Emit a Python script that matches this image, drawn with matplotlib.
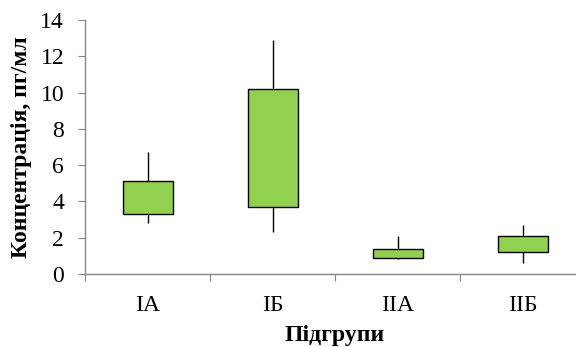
import numpy as np
import matplotlib.pyplot as plt

groups = ['IA', 'IБ', 'IIA', 'IIБ']
whisker_low = [2.8, 2.3, 0.8, 0.6]
box_low = [3.3, 3.7, 0.9, 1.2]
box_high = [5.1, 10.2, 1.4, 2.1]
whisker_high = [6.7, 12.9, 2.1, 2.7]

plt.rcParams['font.family'] = ['Liberation Serif', 'DejaVu Serif']

fig = plt.figure(figsize=(5.76, 3.47), dpi=100)
ax = fig.add_axes([85 / 576, 73 / 347, 500 / 576, 254 / 347])

x = np.arange(len(groups))
low = np.array(box_low)
high = np.array(box_high)

# whiskers first so boxes sit on top
ax.vlines(x, whisker_low, low, color='black', lw=1, zorder=2)
ax.vlines(x, high, whisker_high, color='black', lw=1, zorder=2)
ax.bar(x, high - low, bottom=low, width=0.4, color='#92D050',
       edgecolor='black', linewidth=1, zorder=3)

ax.set_xlim(-0.5, len(groups) - 0.5)
ax.set_ylim(0, 14)
ax.set_yticks(np.arange(0, 15, 2))

ax.set_xticks(np.arange(-0.5, len(groups), 1))
ax.set_xticklabels([])
ax.set_xticks(x, minor=True)
ax.set_xticklabels(groups, minor=True)
ax.tick_params(axis='x', which='minor', length=0, pad=15, labelsize=17)
ax.tick_params(axis='x', which='major', length=5, color='#868686', direction='out')
ax.tick_params(axis='y', length=5, color='#868686', direction='out', labelsize=17, pad=10)

for side in ['top', 'right']:
    ax.spines[side].set_visible(False)
for side in ['left', 'bottom']:
    ax.spines[side].set_color('#868686')
    ax.spines[side].set_linewidth(1)

ax.set_ylabel('Концентрація, пг/мл', fontsize=17, fontweight='bold', labelpad=6)
ax.set_xlabel('Підгрупи', fontsize=17, fontweight='bold', labelpad=6.5)

fig.savefig('out.png', dpi=100)
